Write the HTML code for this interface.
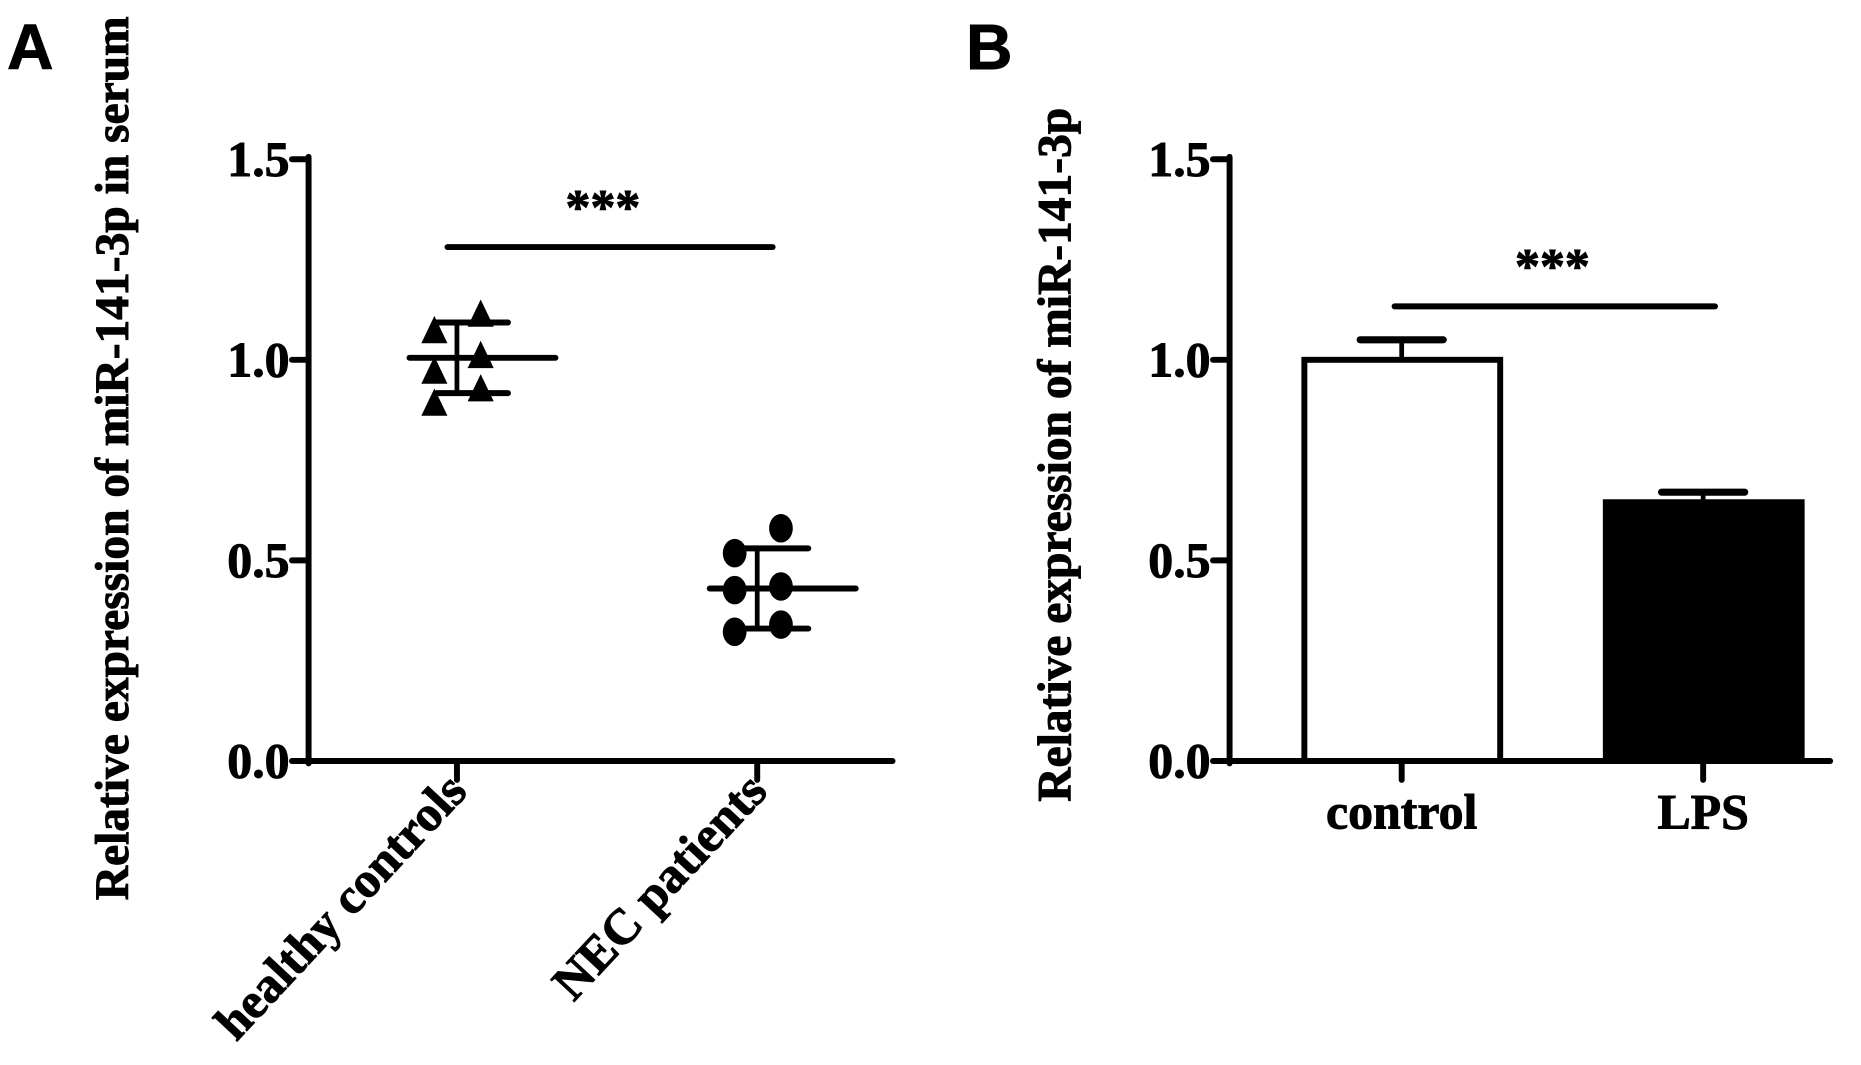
<!DOCTYPE html>
<html><head><meta charset="utf-8"><style>html,body{margin:0;padding:0;background:#fff}svg{display:block}text{font-family:"Liberation Serif",serif;font-weight:bold;fill:#000;stroke:#000;stroke-width:0.8}</style></head>
<body>
<svg id="chart" width="1861" height="1065" viewBox="0 0 1568 897" xmlns="http://www.w3.org/2000/svg">
<text x="6" y="58" style="font-family:'Liberation Sans',sans-serif;font-size:54px">A</text>
<text x="814" y="58" style="font-family:'Liberation Sans',sans-serif;font-size:54px">B</text>
<text transform="translate(108,386) rotate(-90)" text-anchor="middle" font-size="40">Relative expression of miR-141-3p in serum</text>
<text transform="translate(902,383) rotate(-90)" text-anchor="middle" font-size="40">Relative expression of miR-141-3p</text>
<g id="a"></g><g id="b"></g>
</svg>
<script>
const ticks=[0,0.5,1.0,1.5];
const tickLabels=["0.0","0.5","1.0","1.5"];
const catsA=["healthy controls","NEC patients"];
const healthyVals=[1.071,0.97,0.89,1.112,1.009,0.926];
const necVals=[0.518,0.426,0.322,0.58,0.435,0.34];
const meansA=[1.005,0.43];
const sdA=[0.088,0.1];
const catsB=["control","LPS"];
const barVals=[1.0,0.645];
const barErr=[0.05,0.025];
const NS="http://www.w3.org/2000/svg";
const y=v=>641-v*338;
function el(p,tag,at,name){const e=document.createElementNS(NS,tag);for(const k in at)e.setAttribute(k,at[k]);


p.appendChild(e);return e;}
function line(p,x1,y1,x2,y2,w,name){return el(p,'line',{x1,y1,x2,y2,stroke:'#000','stroke-width':w,'stroke-linecap':'round'},name);}
function axes(g,ax,xend,pre){
 line(g,ax,132,ax,643,5,pre+'y-axis');
 line(g,ax-2,641,xend,641,5,pre+'x-axis');
 ticks.forEach((t,i)=>{line(g,ax-14,y(t),ax,y(t),5,pre+'y-tick');
 const tx=el(g,'text',{x:ax-16,y:y(t)+14,'text-anchor':'end','font-size':42},pre+'y-tick-label');tx.textContent=tickLabels[i];});
}
const ga=document.getElementById('a'),gb=document.getElementById('b');
axes(ga,260,752,'a-');
const xA=[385,638];
xA.forEach((x,i)=>{line(ga,x,641,x,657,5,'a-x-tick');
 const t=el(ga,'text',{transform:`translate(${x+10},${668}) rotate(-47)`,'text-anchor':'end','font-size':42},'a-x-label');t.textContent=catsA[i];});
[healthyVals,necVals].forEach((vals,i)=>{const cx=xA[i];
 vals.forEach((v,j)=>{const px=cx+(j<3?-19:20),py=y(v);
  if(i==0)el(ga,'polygon',{points:`${px},${py-13} ${px-11},${py+10} ${px+11},${py+10}`,fill:'#000'},'healthy-point');
  else el(ga,'ellipse',{cx:px,cy:py,rx:10,ry:12,fill:'#000'},'nec-point');});
 const m=meansA[i],s=sdA[i];
 line(ga,cx-40,y(m),cx+83,y(m),5,'mean-line');
 line(ga,cx,y(m+s),cx,y(m-s),4,'sd-bar');
 line(ga,cx-17,y(m+s),cx+43,y(m+s),5,'sd-cap-upper');
 line(ga,cx-17,y(m-s),cx+43,y(m-s),5,'sd-cap-lower');
});
line(ga,377,208,651,208,5,'a-significance-line');
let st=el(ga,'text',{x:508,y:188,'text-anchor':'middle','font-size':42},'a-significance-stars');st.textContent='***';
axes(gb,1036,1542,'b-');
const xB=[1181,1435];
xB.forEach((x,i)=>{line(gb,x,641,x,657,5,'b-x-tick');
 const t=el(gb,'text',{x:x,y:698,'text-anchor':'middle','font-size':42},'b-x-label');t.textContent=catsB[i];
 const v=barVals[i],e=barErr[i];
 line(gb,x,y(v+e),x,y(v),4,'error-bar');
 line(gb,x-35,y(v+e),x+35,y(v+e),6,'error-cap');
 el(gb,'rect',{x:x-82,y:y(v),width:165,height:y(0)-y(v),fill:i?'#000':'#fff',stroke:'#000','stroke-width':5},'bar-'+catsB[i].toLowerCase());
});
line(gb,1175,258,1445,258,5,'b-significance-line');
st=el(gb,'text',{x:1308,y:238,'text-anchor':'middle','font-size':42},'b-significance-stars');st.textContent='***';
</script>
</body></html>
